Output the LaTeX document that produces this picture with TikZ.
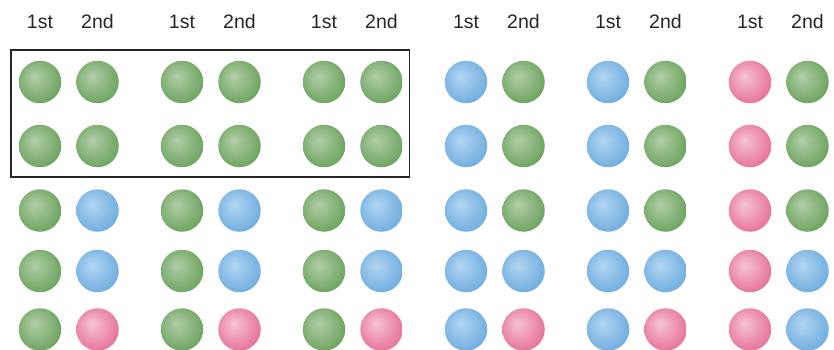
\documentclass[tikz,border=0pt]{standalone}
\usepackage{fontspec}
\setmainfont{Liberation Sans}
\definecolor{ghi}{RGB}{178,206,168}
\definecolor{gbase}{RGB}{100,158,86}
\definecolor{bhi}{RGB}{178,214,242}
\definecolor{bbase}{RGB}{104,168,220}
\definecolor{phi}{RGB}{246,196,214}
\definecolor{pbase}{RGB}{228,104,146}
\pgfdeclareradialshading{gball}{\pgfpoint{-7bp}{7bp}}{color(0bp)=(ghi); color(33bp)=(gbase); color(50bp)=(gbase)}
\pgfdeclareradialshading{bball}{\pgfpoint{-7bp}{7bp}}{color(0bp)=(bhi); color(33bp)=(bbase); color(50bp)=(bbase)}
\pgfdeclareradialshading{pball}{\pgfpoint{-7bp}{7bp}}{color(0bp)=(phi); color(33bp)=(pbase); color(50bp)=(pbase)}
\tikzset{
  ball/.style={circle, minimum size=42.5pt, inner sep=0pt, draw=none},
  G/.style={ball, shading=gball},
  B/.style={ball, shading=bball},
  P/.style={ball, shading=pball},
  lbl/.style={anchor=base, inner sep=0pt, font=\fontsize{19.5}{23}\selectfont, text=black!85},
  frame/.style={draw=black!85, line width=1.8pt}
}
\begin{document}
\begin{tikzpicture}[x=1pt,y=-1pt]
\useasboundingbox (0,0) rectangle (834,350);
\def\rowy{{82,146,210.5,271,329.5}}
% colour pattern per set: rows listed as first/second
\foreach \k/\pat in {1/{G,G,G,G,G,G,G,B,G,B,G,P},
                     2/{G,G,G,G,G,G,G,B,G,B,G,P},
                     3/{G,G,G,G,G,G,G,B,G,B,G,P},
                     4/{B,G,B,G,B,G,B,B,B,P},
                     5/{B,G,B,G,B,G,B,B,B,P},
                     6/{P,G,P,G,P,G,P,B,P,B}}{
  \pgfmathsetmacro{\xa}{40+142*(\k-1)}
  \pgfmathsetmacro{\xb}{\xa+57.5}
  \node[lbl] (l1-\k) at (\xa,28.3) {1st};
  \node[lbl] (l2-\k) at (\xb,28.3) {2nd};
}
% balls
\newcommand{\ballpair}[4]{% set, row, first, second
  \pgfmathsetmacro{\xa}{40+142*(#1-1)}
  \pgfmathsetmacro{\xb}{\xa+57.5}
  \pgfmathsetmacro{\yy}{\rowy[#2-1]}
  \node[#3] (b-#1-#2-1) at (\xa,\yy) {};
  \node[#4] (b-#1-#2-2) at (\xb,\yy) {};
}
\foreach \k in {1,2,3}{
  \ballpair{\k}{1}{G}{G}
  \ballpair{\k}{2}{G}{G}
  \ballpair{\k}{3}{G}{B}
  \ballpair{\k}{4}{G}{B}
  \ballpair{\k}{5}{G}{P}
}
\foreach \k in {4,5}{
  \ballpair{\k}{1}{B}{G}
  \ballpair{\k}{2}{B}{G}
  \ballpair{\k}{3}{B}{G}
  \ballpair{\k}{4}{B}{B}
  \ballpair{\k}{5}{B}{P}
}
\ballpair{6}{1}{P}{G}
\ballpair{6}{2}{P}{G}
\ballpair{6}{3}{P}{G}
\ballpair{6}{4}{P}{B}
\ballpair{6}{5}{P}{B}
% frame around first two rows of sets 1-3
\coordinate (fr1) at (11,50);
\coordinate (fr2) at (409.5,177);
\draw[frame] (fr1) rectangle (fr2);
\end{tikzpicture}
\end{document}
